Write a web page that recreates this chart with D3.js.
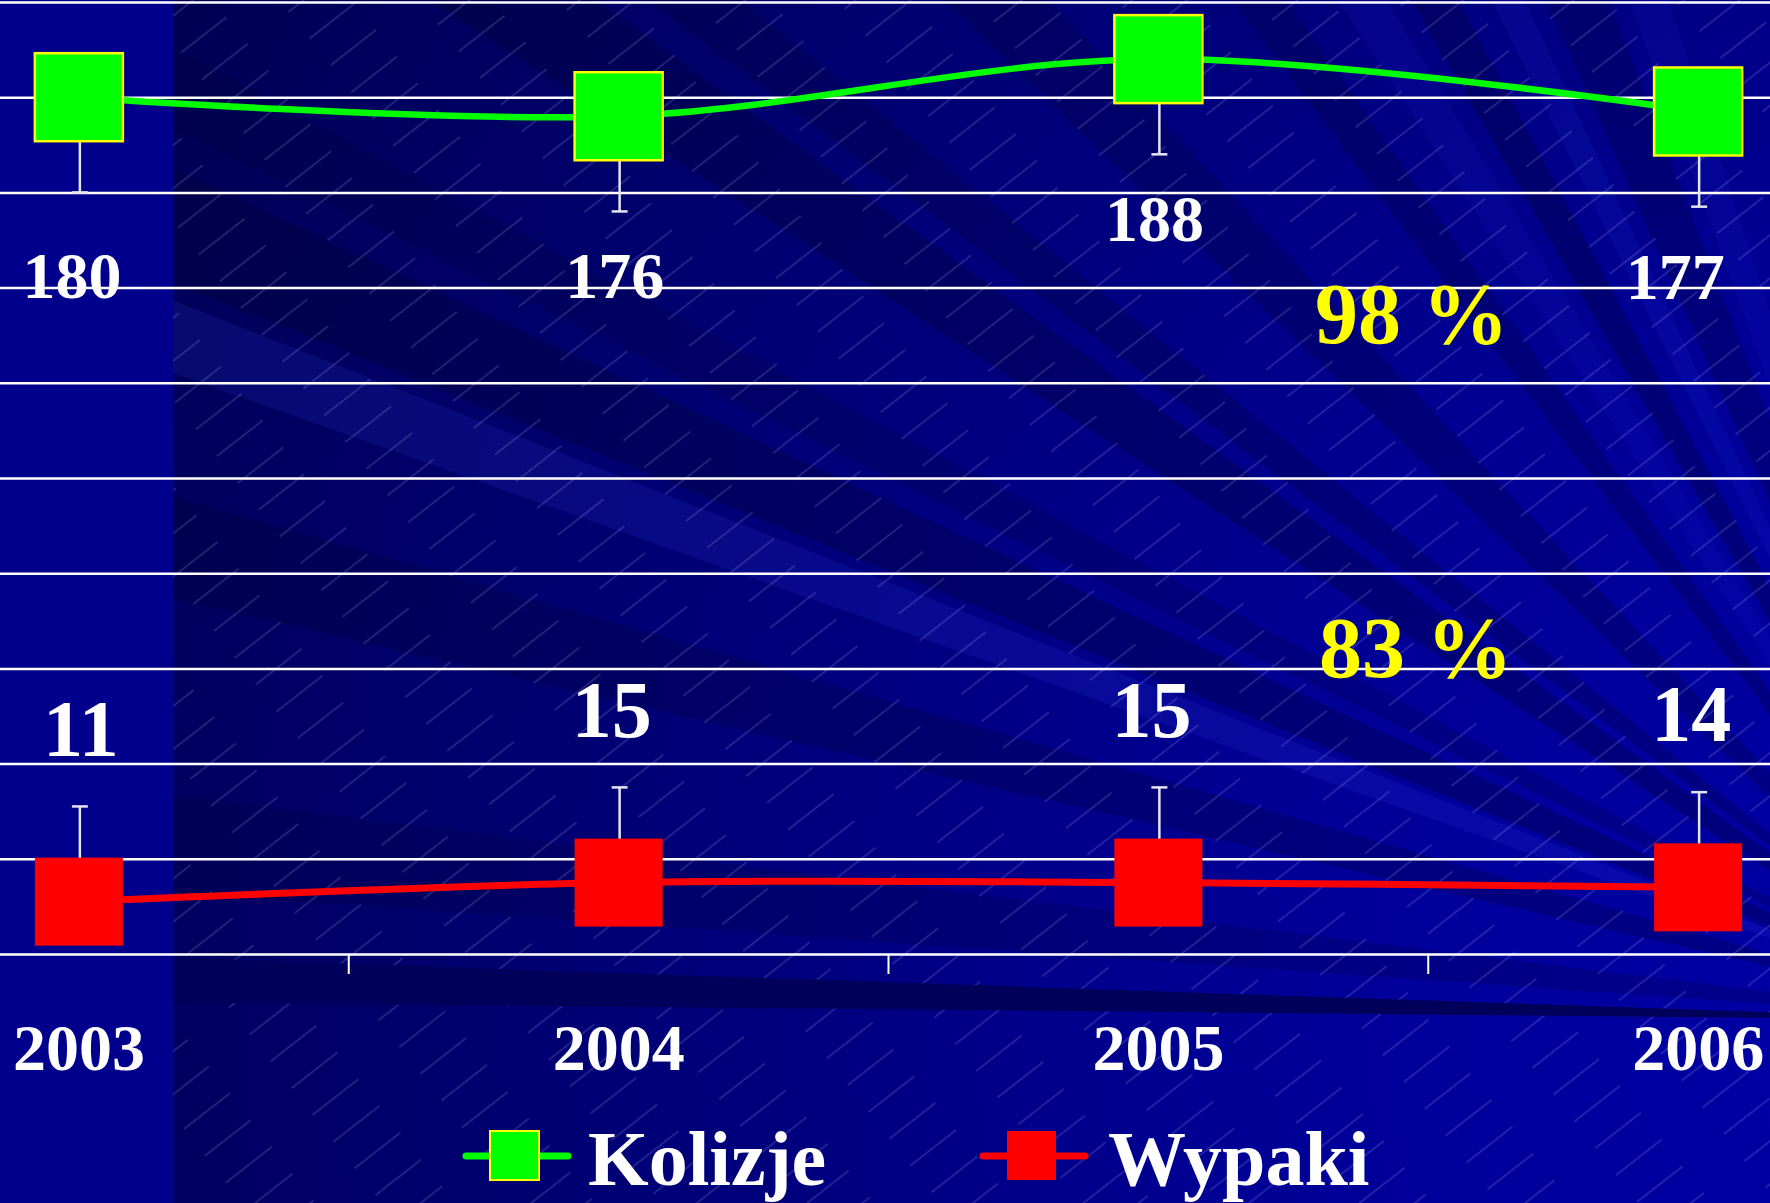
<!DOCTYPE html>
<html>
<head>
<meta charset="utf-8">
<script src="https://cdn.jsdelivr.net/npm/d3@7"></script>
<style>
  html, body { margin: 0; padding: 0; background: #000070; overflow: hidden; }
  text { font-family: "Times New Roman", "Liberation Serif", serif; font-weight: bold; }
</style>
</head>
<body>
<script>
// data
const years = ["2003", "2004", "2005", "2006"];
const kolizje = [180, 176, 188, 177];   // collisions
const wypaki = [11, 15, 15, 14];        // accidents
const errorValue = 20;                  // fixed error bar size
const yTicks = [0, 20, 40, 60, 80, 100, 120, 140, 160, 180, 200];
const seriesNames = ["Kolizje", "Wypaki"];
const notes = ["98 %", "83 %"];

const W = 1770, H = 1203;
const svg = d3.select("body").append("svg")
  .attr("width", W)
  .attr("height", H);
const defs = svg.append("defs");

// ---- background (slide artwork) ----
const C = [2000, 1020]; // rays come from here
const grad = defs.append("radialGradient")
  .attr("id", "bgGrad")
  .attr("gradientUnits", "userSpaceOnUse")
  .attr("cx", C[0]).attr("cy", C[1]).attr("r", 2300);
grad.append("stop").attr("offset", 0).attr("stop-color", "#0000a8");
grad.append("stop").attr("offset", 0.3).attr("stop-color", "#000098");
grad.append("stop").attr("offset", 0.6).attr("stop-color", "#000076");
grad.append("stop").attr("offset", 1).attr("stop-color", "#00004a");

svg.append("rect").attr("width", W).attr("height", H).attr("fill", "url(#bgGrad)");

// [from angle, to angle, colour, opacity]
const rays = [
  [4, 7, "#000030", 0.2], [13, 16, "#000030", 0.25],
  [19.5, 21.5, "#4050ff", 0.12], [22, 25, "#000030", 0.3], [26, 28, "#000030", 0.2],
  [33, 36, "#000030", 0.3], [37, 39, "#000030", 0.25],
  [44, 47, "#000030", 0.25], [53, 55, "#000030", 0.25],
  [57, 59, "#3040ff", 0.08], [60, 62, "#000030", 0.3],
  [63.5, 65, "#3040ff", 0.1], [66, 69, "#000030", 0.25], [70, 72, "#3040ff", 0.08]
];
const rad = a => a * Math.PI / 180;
const R = 3200;
svg.append("g").selectAll("path").data(rays).join("path")
  .attr("d", r => "M" + C + "L" + (C[0] - R * Math.cos(rad(r[0]))) + "," + (C[1] - R * Math.sin(rad(r[0])))
    + "L" + (C[0] - R * Math.cos(rad(r[1]))) + "," + (C[1] - R * Math.sin(rad(r[1]))) + "Z")
  .attr("fill", r => r[2])
  .attr("opacity", r => r[3]);

// thin diagonal hatching
const pat = defs.append("pattern")
  .attr("id", "hatch")
  .attr("patternUnits", "userSpaceOnUse")
  .attr("width", 110).attr("height", 34)
  .attr("patternTransform", "rotate(-38)");
pat.append("line")
  .attr("x1", 0).attr("y1", 17).attr("x2", 58).attr("y2", 17)
  .attr("stroke", "#c8c8ff").attr("stroke-width", 1).attr("opacity", 0.32);
svg.append("rect").attr("x", 173).attr("y", 0).attr("width", W - 173).attr("height", H)
  .attr("fill", "url(#hatch)");

// dark wedge under the axis
svg.append("path")
  .attr("d", "M" + C + "L" + (C[0] - R * Math.cos(rad(0.55))) + "," + (C[1] - R * Math.sin(rad(0.55)))
    + "L" + (C[0] - R * Math.cos(rad(1.95))) + "," + (C[1] - R * Math.sin(rad(1.95))) + "Z")
  .attr("fill", "#00005a");

// left band
svg.append("rect").attr("x", 0).attr("y", 0).attr("width", 173).attr("height", H)
  .attr("fill", "#00008c");

// ---- chart ----
const x = d3.scaleBand().domain(years).range([-191, 1968]).padding(0);
const cx = d => x(d) + x.bandwidth() / 2;
const y = d3.scaleLinear().domain([0, 200]).range([954, 2]);

// gridlines
const grid = svg.append("g")
  .call(d3.axisRight(y).tickValues(yTicks).tickSize(W).tickFormat(""));
grid.select(".domain").remove();
grid.selectAll("line").attr("stroke", "#ffffff").attr("stroke-width", 2.5);

// category axis
const xAxis = svg.append("g")
  .attr("transform", "translate(0," + y(0) + ")")
  .call(d3.axisBottom(x).tickSize(0));
xAxis.select(".domain").remove();
xAxis.selectAll("text")
  .attr("y", 116).attr("dy", 0)
  .attr("fill", "#ffffff")
  .style("font-size", "66px");

// tick marks between categories
svg.append("g").selectAll("line").data(years.slice(1)).join("line")
  .attr("x1", d => x(d)).attr("x2", d => x(d))
  .attr("y1", y(0)).attr("y2", y(0) + 20)
  .attr("stroke", "#ffffff").attr("stroke-width", 2);

// error bars
function errorBars(values, sign) {
  const g = svg.append("g").attr("stroke", "#e4e4f4").attr("stroke-width", 2.5);
  g.selectAll(".bar").data(values).join("line")
    .attr("x1", (d, i) => cx(years[i]) + 1).attr("x2", (d, i) => cx(years[i]) + 1)
    .attr("y1", d => y(d)).attr("y2", d => y(d + sign * errorValue));
  g.selectAll(".cap").data(values).join("line")
    .attr("x1", (d, i) => cx(years[i]) - 7).attr("x2", (d, i) => cx(years[i]) + 9)
    .attr("y1", d => y(d + sign * errorValue)).attr("y2", d => y(d + sign * errorValue));
}
errorBars(kolizje, -1);
errorBars(wypaki, 1);

// lines
const line = d3.line()
  .x((d, i) => cx(years[i]))
  .y(d => y(d))
  .curve(d3.curveCardinal.tension(0));

svg.append("path").datum(kolizje)
  .attr("fill", "none").attr("stroke", "#00ff00").attr("stroke-width", 6.5)
  .attr("d", line);
svg.append("path").datum(wypaki)
  .attr("fill", "none").attr("stroke", "#ff0000").attr("stroke-width", 7)
  .attr("d", line);

// markers
const ms = 88;
svg.append("g").selectAll("rect").data(kolizje).join("rect")
  .attr("x", (d, i) => cx(years[i]) - ms / 2)
  .attr("y", d => y(d) - ms / 2)
  .attr("width", ms).attr("height", ms)
  .attr("fill", "#00ff00").attr("stroke", "#ffff00").attr("stroke-width", 2.5);
svg.append("g").selectAll("rect").data(wypaki).join("rect")
  .attr("x", (d, i) => cx(years[i]) - ms / 2)
  .attr("y", d => y(d) - ms / 2)
  .attr("width", ms).attr("height", ms)
  .attr("fill", "#ff0000");

// data labels (a couple were nudged by hand in the original)
const kolShift = { "2003": [-3, 19], "2006": [-19, 6] };
const wypShift = { "2003": [9, 0] };
svg.append("g").selectAll("text").data(kolizje).join("text")
  .attr("x", (d, i) => cx(years[i]) - 4 + (kolShift[years[i]] || [0, 0])[0])
  .attr("y", (d, i) => y(d) + 182 + (kolShift[years[i]] || [0, 0])[1])
  .attr("text-anchor", "middle")
  .attr("fill", "#ffffff")
  .style("font-size", "66px")
  .text(d => d);
svg.append("g").selectAll("text").data(wypaki).join("text")
  .attr("x", (d, i) => cx(years[i]) - 7 + (wypShift[years[i]] || [0, 0])[0])
  .attr("y", d => y(d) - 146)
  .attr("text-anchor", "middle")
  .attr("fill", "#ffffff")
  .style("font-size", "80px")
  .text(d => d);

// percent notes
svg.append("text").attr("x", 1315).attr("y", 343)
  .attr("fill", "#ffff00").style("font-size", "86px").text(notes[0]);
svg.append("text").attr("x", 1319).attr("y", 677)
  .attr("fill", "#ffff00").style("font-size", "86px").text(notes[1]);

// legend
const legendColors = [["#00ff00", "#ffff00"], ["#ff0000", "none"]];
const legend = svg.append("g").selectAll("g").data(seriesNames).join("g")
  .attr("transform", (d, i) => "translate(" + (466 + i * 517) + ",1156)");
legend.append("line")
  .attr("x1", 0).attr("x2", 102).attr("y1", 0).attr("y2", 0)
  .attr("stroke", (d, i) => legendColors[i][0])
  .attr("stroke-width", 7).attr("stroke-linecap", "round");
legend.append("rect")
  .attr("x", 24).attr("y", -25).attr("width", 49).attr("height", 49)
  .attr("fill", (d, i) => legendColors[i][0])
  .attr("stroke", (d, i) => legendColors[i][1]).attr("stroke-width", 2);
legend.append("text")
  .attr("x", (d, i) => i ? 125 : 122).attr("y", 29)
  .attr("fill", "#ffffff")
  .style("font-size", "78px")
  .text(d => d);
</script>
</body>
</html>
